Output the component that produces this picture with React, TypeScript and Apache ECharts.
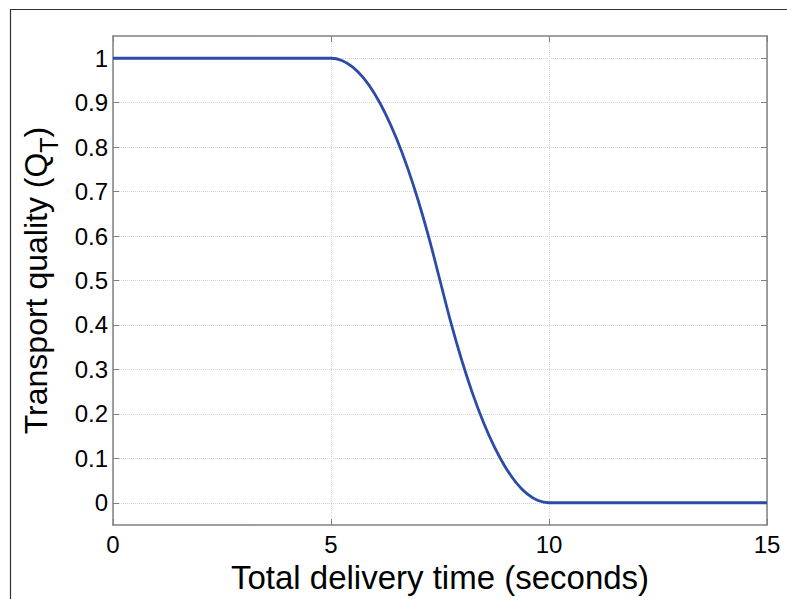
import React, { useEffect, useRef } from "react";
import * as echarts from "echarts";

// Total delivery time (seconds)
const times = [0, 5, 5.25, 5.5, 5.75, 6, 6.25, 6.5, 6.75, 7, 7.25, 7.5, 7.75, 8, 8.25, 8.5, 8.75, 9, 9.25, 9.5, 9.75, 10, 15];
// Transport quality Q_T
const quality = [1, 1, 0.995, 0.98, 0.955, 0.92, 0.875, 0.82, 0.755, 0.68, 0.595, 0.5, 0.405, 0.32, 0.245, 0.18, 0.125, 0.08, 0.045, 0.02, 0.005, 0, 0];

const xTicks = [0, 5, 10, 15];
const yTicks = [0, 0.1, 0.2, 0.3, 0.4, 0.5, 0.6, 0.7, 0.8, 0.9, 1];
const yTickLabels = ["0", "0.1", "0.2", "0.3", "0.4", "0.5", "0.6", "0.7", "0.8", "0.9", "1"];

const FONT = "Liberation Sans";
const AXIS_COLOR = "#808080";
const GRID_COLOR = "#d4d4d4";
const LINE_COLOR = "#2c4ba6";

export default function App() {
  const ref = useRef<HTMLDivElement>(null);
  useEffect(() => {
    if (!ref.current) return;
    const chart = echarts.init(ref.current, undefined, { renderer: "svg" });
    const data = times.map((t, i) => [t, quality[i]]);
    const axisLine = { show: true, onZero: false, lineStyle: { color: AXIS_COLOR, width: 1.5 } };
    const tick = { show: true, inside: true, length: 6, lineStyle: { color: AXIS_COLOR, width: 1 } };
    chart.setOption({
      animation: false,
      backgroundColor: "#ffffff",
      textStyle: { fontFamily: FONT },
      grid: { left: 113, top: 36, right: 20, bottom: 74, containLabel: false },
      graphic: [
        { type: "line", shape: { x1: 10, y1: 9.5, x2: 787, y2: 9.5 }, style: { stroke: "#333", lineWidth: 1.2 } },
        { type: "line", shape: { x1: 10.5, y1: 9, x2: 10.5, y2: 599 }, style: { stroke: "#333", lineWidth: 1.2 } },
      ],
      xAxis: [
        {
          type: "value",
          min: 0,
          max: 15,
          interval: 5,
          position: "bottom",
          name: "Total delivery time (seconds)",
          nameLocation: "middle",
          nameGap: 30,
          nameTextStyle: { fontSize: 33, color: "#000", fontFamily: FONT },
          axisLine,
          axisTick: { ...tick, customValues: xTicks },
          axisLabel: { customValues: xTicks, fontSize: 24, color: "#000", margin: 7, fontFamily: FONT },
          splitLine: { show: true, lineStyle: { color: GRID_COLOR, type: "dotted", width: 1 } },
        },
        {
          type: "value",
          min: 0,
          max: 15,
          interval: 5,
          position: "top",
          axisLine,
          axisTick: { ...tick, customValues: xTicks },
          axisLabel: { show: false },
          splitLine: { show: false },
        },
      ],
      yAxis: [
        {
          type: "value",
          min: -0.05,
          max: 1.05,
          position: "left",
          name: "Transport quality (Q{sub|T})",
          nameLocation: "middle",
          nameGap: 52,
          nameRotate: 90,
          nameTextStyle: {
            fontSize: 32,
            color: "#000",
            fontFamily: FONT,
            verticalAlign: "bottom",
            rich: {
              sub: { fontSize: 25, color: "#000", fontFamily: FONT, padding: [26, 0, 0, 0], verticalAlign: "bottom" },
            },
          },
          axisLine,
          axisTick: { ...tick, customValues: yTicks },
          axisLabel: {
            customValues: yTicks,
            fontSize: 24,
            color: "#000",
            margin: 5,
            fontFamily: FONT,
            formatter: (v: number) => {
              const i = yTicks.findIndex((t) => Math.abs(t - v) < 1e-9);
              return i >= 0 ? yTickLabels[i] : "";
            },
          },
          splitLine: { show: true, lineStyle: { color: GRID_COLOR, type: "dotted", width: 1 } },
        },
        {
          type: "value",
          min: -0.05,
          max: 1.05,
          position: "right",
          axisLine,
          axisTick: { ...tick, customValues: yTicks },
          axisLabel: { show: false },
          splitLine: { show: false },
        },
      ],
      series: [
        {
          type: "line",
          xAxisIndex: 0,
          yAxisIndex: 0,
          data,
          showSymbol: false,
          smooth: 0.3,
          lineStyle: { color: LINE_COLOR, width: 2.8 },
        },
      ],
    });
    return () => chart.dispose();
  }, []);
  return (
    <div
      ref={ref}
      style={{ position: "fixed", left: 0, top: 0, width: 787, height: 599, background: "#fff" }}
    />
  );
}
